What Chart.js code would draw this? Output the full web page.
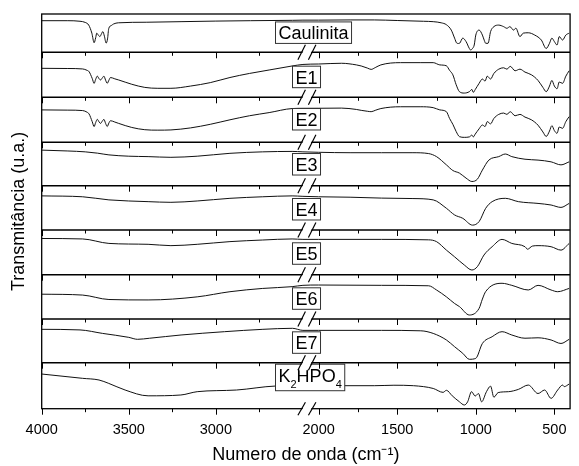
<!DOCTYPE html>
<html>
<head>
<meta charset="utf-8">
<script src="https://cdn.jsdelivr.net/npm/chart.js@4.4.0/dist/chart.umd.min.js"></script>
<style>
  html, body { margin: 0; padding: 0; background: #fff; }
  #wrap { width: 579px; height: 466px; }
</style>
</head>
<body>
<div id="wrap"><canvas id="ftir" width="579" height="466"></canvas></div>
<script>
const FONT = "'Liberation Sans', Arial, sans-serif";

// ── Eixo com quebra: 4000→2500 e 2100→400 cm-1 ──
const LEFT_FROM = 4000, LEFT_TO = 2500, RIGHT_FROM = 2100, RIGHT_TO = 400;
const LEFT_K = 0.1773, RIGHT_K = 0.16;
const U_BREAK = (LEFT_FROM - LEFT_TO) * LEFT_K;
const U_MAX = U_BREAK + (RIGHT_FROM - RIGHT_TO) * RIGHT_K;

function toU(w) {
  return w > (LEFT_TO + RIGHT_FROM) / 2
    ? (LEFT_FROM - w) * LEFT_K
    : U_BREAK + (RIGHT_FROM - w) * RIGHT_K;
}

const tickWn     = [4000, 3750, 3500, 3250, 3000, 2750, 2000, 1750, 1500, 1250, 1000, 750, 500];
const tickLabels = ['4000', '', '3500', '', '3000', '', '2000', '', '1500', '', '1000', '', '500'];

// ── Espectros [número de onda, transmitância (u.a.)] ──
const caulinita = [
  [4000,82.5],[3850,82.5],[3780,81],[3750,78],[3730,71],[3712,50],[3699,25],[3690,38],[3684,50],
  [3675,45],[3666,41],[3657,48],[3649,54],[3640,42],[3630,24],[3622,35],[3615,62],[3600,70],
  [3587,74],[3560,77],[3400,78.5],[3200,80],[3000,81.5],[2800,82.5],[2560,83.5],
  [2100,84],[2000,84],[1800,84.5],[1646,84.5],[1500,83],[1333,81],[1271,80],[1220,77],[1187,72],
  [1156,58],[1135,37],[1121,24],[1110,23],[1102,24],[1083,37],[1062,28],[1041,10],[1033,6],
  [1021,10],[1010,19],[1000,45],[979,58],[958,45],[945,30],[937,23.5],[922,23.5],[906,54],
  [885,67],[854,71],[823,67],[802,62.7],[783,67],[760,58],[745,63],[719,41],[698,50],[666,51],
  [625,45],[583,32],[552,10],[531,23.5],[516,37],[500,28],[483,19],[469,41],[448,32],[427,45],[406,50]
];
const e1 = [
  [4000,64.4],[3850,64],[3765,63],[3740,60],[3728,57],[3710,42],[3699,31],[3690,40],[3681,47],
  [3670,41],[3662,38.5],[3652,43],[3643,47],[3633,38],[3624,31],[3614,38],[3605,44],[3580,41],
  [3558,38.5],[3483,29],[3408,22],[3333,20],[3258,20],[3145,25],[3032,32.6],[2919,44],[2807,53],
  [2694,60.7],[2562,69.6],
  [2100,73],[2000,74],[1854,75.6],[1760,72],[1729,69.6],[1690,65],[1666,62],[1640,66],[1604,72],
  [1479,77],[1354,77],[1271,77],[1229,72],[1187,70],[1167,60],[1146,50],[1125,28],[1104,12.5],
  [1073,9.4],[1041,12.5],[1025,17.5],[1016,11],[1004,17],[979,31],[958,40.6],[941,36],[927,47],
  [906,40.6],[885,53],[854,62.5],[823,65.6],[802,62.5],[781,68.8],[750,59],[719,62.5],[687,56],
  [646,50],[604,37.5],[573,22],[552,12.5],[531,25],[516,37.5],[500,25],[483,19],[469,34],
  [448,31],[427,47],[406,59]
];
const e2 = [
  [4000,72],[3850,71.5],[3765,70.5],[3740,67],[3728,63],[3710,46],[3699,35],[3690,44],[3681,51],
  [3670,45],[3662,42],[3652,47],[3643,51],[3633,42],[3624,35],[3614,43],[3605,48],[3580,45],
  [3558,42],[3483,33],[3408,28],[3333,27],[3258,27.5],[3145,32],[3032,40],[2919,50],[2807,59],
  [2694,66],[2562,75],
  [2100,75.5],[2000,75.6],[1854,76],[1760,73],[1729,71],[1690,69],[1666,68],[1640,71],[1604,75],
  [1479,79],[1354,79],[1271,77],[1229,72],[1187,68],[1167,53],[1146,40],[1125,24],[1104,12.6],
  [1073,11],[1041,12],[1025,16],[1016,12],[1004,18],[979,30],[958,38.5],[941,35],[927,46],
  [906,41],[885,53],[854,62],[823,65],[802,62],[781,68],[750,59],[719,62],[687,56],[646,50],
  [604,38],[573,23],[552,13],[531,25],[516,37],[500,26],[483,20],[469,34],[448,31],[427,46],[406,57]
];
const e3 = [
  [4000,82],[3850,80],[3750,78],[3680,75],[3614,71],[3500,68],[3389,67],[3258,65.4],[3107,68],
  [2919,74.6],[2731,78],[2562,79],
  [2100,78],[2000,77],[1800,76],[1600,76],[1400,76],[1300,74],[1250,67],[1187,48],[1146,35],
  [1104,29],[1062,17.5],[1025,9.7],[990,15],[958,36],[917,59],[854,67],[812,73],[771,67],
  [687,61],[604,59],[521,55],[458,48],[406,55]
];
const e4 = [
  [4000,77],[3765,75],[3614,68],[3389,64],[3258,62.5],[3107,65.5],[2919,71.5],[2731,75],[2562,77],
  [2100,76],[2000,75],[1800,74],[1600,72],[1400,71],[1271,68],[1187,49],[1135,34],[1083,26.4],
  [1021,11],[979,19],[937,49],[896,64],[812,71.5],[729,64],[604,60],[521,56.4],[458,51],[406,60]
];
const e5 = [
  [4000,81],[3765,80],[3614,70],[3389,68],[3258,65],[3107,68],[2919,74],[2731,77.6],[2562,80],
  [2100,79],[2000,79],[1600,79],[1300,78],[1250,74],[1187,55],[1135,40],[1073,21.7],[1025,10.5],
  [990,18],[948,44],[896,62.6],[833,79],[771,70],[687,62.6],[671,57],[640,64],[604,65],
  [521,62.6],[458,55],[406,70]
];
const e6 = [
  [4000,56],[3765,54],[3614,44],[3389,43],[3107,50],[2919,61.6],[2731,69],[2562,73],
  [2100,76],[2000,76.7],[1600,76],[1300,75],[1250,65.5],[1187,50],[1135,35],[1104,28],[1041,9],
  [979,24],[958,45],[937,62],[833,80.6],[771,76],[666,65.5],[604,76],[521,65.5],[479,61.6],[406,69]
];
const e7 = [
  [4000,76.4],[3780,75],[3650,67],[3500,58],[3450,53.5],[3380,56],[3200,63.4],[2950,71],
  [2730,76.4],[2560,78.7],
  [2100,74],[2000,74],[1600,74],[1350,73],[1271,67],[1187,52],[1135,36.6],[1083,21.5],[1041,7.8],
  [1000,10],[958,44],[896,59.5],[833,71],[771,63.4],[687,56],[604,57],[521,52],[458,44],[406,53.5]
];
const k2hpo4 = [
  [4000,75.4],[3765,66],[3671,62.4],[3615,55],[3521,40.6],[3389,28],[3201,29.8],[3107,37],
  [2882,40.6],[2656,49.3],
  [2100,50],[1846,50],[1646,50],[1521,51],[1396,50],[1271,44],[1208,35.5],[1187,40],[1150,28],
  [1104,15],[1073,8],[1052,15],[1027,37],[1004,27.5],[983,33],[963,15],[932,37],[906,49],
  [885,25],[858,35],[792,37],[729,42],[666,51.4],[604,33],[562,40.6],[521,22.5],[479,40.6],
  [448,51.4],[437,48],[406,53.6]
];

const spectra    = [caulinita, e1, e2, e3, e4, e5, e6, e7, k2hpo4];
const panelNames = [
  [['Caulinita', 0]], [['E1', 0]], [['E2', 0]], [['E3', 0]], [['E4', 0]], [['E5', 0]],
  [['E6', 0]], [['E7', 0]], [['K', 0], ['2', 1], ['HPO', 0], ['4', 1]]
];

// layout dos painéis (altura relativa e posição do rótulo)
const panelWeights = [38.3, 45, 45, 43.4, 44.3, 44.7, 44.3, 43.7, 46];
const labelWn      = [2037, 2078, 2078, 2078, 2078, 2078, 2078, 2078, 2059];
const labelLevel   = [50.6, 44.7, 50.7, 48.8, 46.3, 46.8, 45.6, 45.5, 72.8];

function drawLabel(ctx, parts, cx, capMid) {
  const base = capMid + 6.5;
  const hasSub = parts.some(p => p[1]);
  let w = 0;
  parts.forEach(([t, sub]) => {
    ctx.font = `${sub ? 11 : 18}px ${FONT}`;
    w += ctx.measureText(t).width;
  });
  const padX = 3;
  const top = base - 17.5, bottom = base + (hasSub ? 9 : 4);
  const left = Math.round(cx - w / 2 - padX) + 0.5;
  ctx.fillStyle = '#fff';
  ctx.fillRect(left, top, w + 2 * padX, bottom - top);
  ctx.strokeStyle = '#333';
  ctx.lineWidth = 1;
  ctx.strokeRect(left, top, w + 2 * padX, bottom - top);
  ctx.fillStyle = '#000';
  ctx.textBaseline = 'alphabetic';
  ctx.textAlign = 'left';
  let x = left + padX;
  parts.forEach(([t, sub]) => {
    ctx.font = `${sub ? 11 : 18}px ${FONT}`;
    ctx.fillText(t, x, sub ? base + 6 : base);
    x += ctx.measureText(t).width;
  });
}

function seg(ctx, x1, y1, x2, y2) {
  ctx.beginPath();
  ctx.moveTo(x1, y1);
  ctx.lineTo(x2, y2);
  ctx.stroke();
}

const framePlugin = {
  id: 'panelFrame',
  afterDatasetsDraw(chart) {
    const { ctx, chartArea: a, scales } = chart;
    const xs = scales.x;
    ctx.save();

    // rótulos
    panelNames.forEach((parts, i) => {
      const ys = scales['y' + i];
      drawLabel(ctx, parts, xs.getPixelForValue(toU(labelWn[i])), ys.getPixelForValue(labelLevel[i]));
    });

    // moldura e separadores
    ctx.strokeStyle = '#000';
    ctx.lineWidth = 1.3;
    ctx.strokeRect(a.left, a.top, a.right - a.left, a.bottom - a.top);
    ctx.lineWidth = 1.6;
    for (let i = 0; i < spectra.length - 1; i++) {
      const y = scales['y' + i].bottom;
      seg(ctx, a.left, y, a.right, y);
    }

    // marcas do eixo x em cada painel
    ctx.lineWidth = 1;
    for (let i = 0; i < spectra.length; i++) {
      const y = scales['y' + i].bottom;
      tickWn.forEach((w, k) => {
        const x = Math.round(xs.getPixelForValue(toU(w))) + 0.5;
        seg(ctx, x, y, x, y + (tickLabels[k] ? 6 : 3.5));
      });
    }

    // quebra do eixo //
    const bx = xs.getPixelForValue(U_BREAK);
    for (let i = 0; i < spectra.length; i++) {
      const y = scales['y' + i].bottom;
      const h = i === spectra.length - 1 ? 6.5 : 7.5;
      ctx.fillStyle = '#fff';
      ctx.beginPath();
      ctx.moveTo(bx - 4, y + h);
      ctx.lineTo(bx + 3.5, y - h);
      ctx.lineTo(bx + 12, y - h);
      ctx.lineTo(bx + 4.5, y + h);
      ctx.closePath();
      ctx.fill();
      ctx.lineWidth = 1.2;
      seg(ctx, bx - 5, y + h, bx + 2.5, y - h);
      seg(ctx, bx + 5.5, y + h, bx + 13, y - h);
    }
    ctx.restore();
  }
};

const scales = {
  x: {
    type: 'linear',
    min: 0,
    max: U_MAX,
    grid: { display: false, drawTicks: false },
    border: { display: false },
    afterBuildTicks: s => { s.ticks = tickWn.map(w => ({ value: toU(w) })); },
    ticks: {
      autoSkip: false,
      maxRotation: 0,
      padding: 12.5,
      color: '#000',
      font: { family: FONT, size: 14.5 },
      callback: (v, i) => tickLabels[i],
    },
    title: {
      display: true,
      text: 'Numero de onda (cm⁻¹)',
      color: '#000',
      font: { family: FONT, size: 18 },
      padding: 0,
    },
    afterFit: s => { s.height = 57.3; },
  },
  yt: {
    type: 'linear',
    position: 'left',
    weight: 100,
    grid: { display: false, drawTicks: false },
    border: { display: false },
    ticks: { display: false },
    title: {
      display: true,
      text: 'Transmitância (u.a.)',
      color: '#000',
      font: { family: FONT, size: 18 },
      padding: { top: 8, bottom: 0 },
    },
    afterFit: s => { s.width = 41.7; },
  },
};

spectra.forEach((_, i) => {
  scales['y' + i] = {
    type: 'linear',
    position: 'left',
    stack: 'paineis',
    stackWeight: panelWeights[i],
    weight: spectra.length - i,
    min: 0,
    max: 100,
    grid: { display: false, drawTicks: false },
    border: { display: false },
    ticks: { display: false },
    afterFit: s => { s.width = 0; },
  };
});

const datasets = spectra.map((pts, i) => ({
  label: 'p' + i,
  data: pts.map(([w, t]) => ({ x: toU(w), y: t })),
  xAxisID: 'x',
  yAxisID: 'y' + i,
  borderColor: '#111',
  borderWidth: 1,
  pointRadius: 0,
  cubicInterpolationMode: 'monotone',
  fill: false,
}));

new Chart(document.getElementById('ftir'), {
  type: 'line',
  data: { datasets },
  options: {
    responsive: false,
    animation: false,
    layout: { padding: { top: 14, right: 1, left: 0, bottom: 0 } },
    plugins: { legend: { display: false }, tooltip: { enabled: false } },
    scales,
  },
  plugins: [framePlugin],
});
</script>
</body>
</html>
